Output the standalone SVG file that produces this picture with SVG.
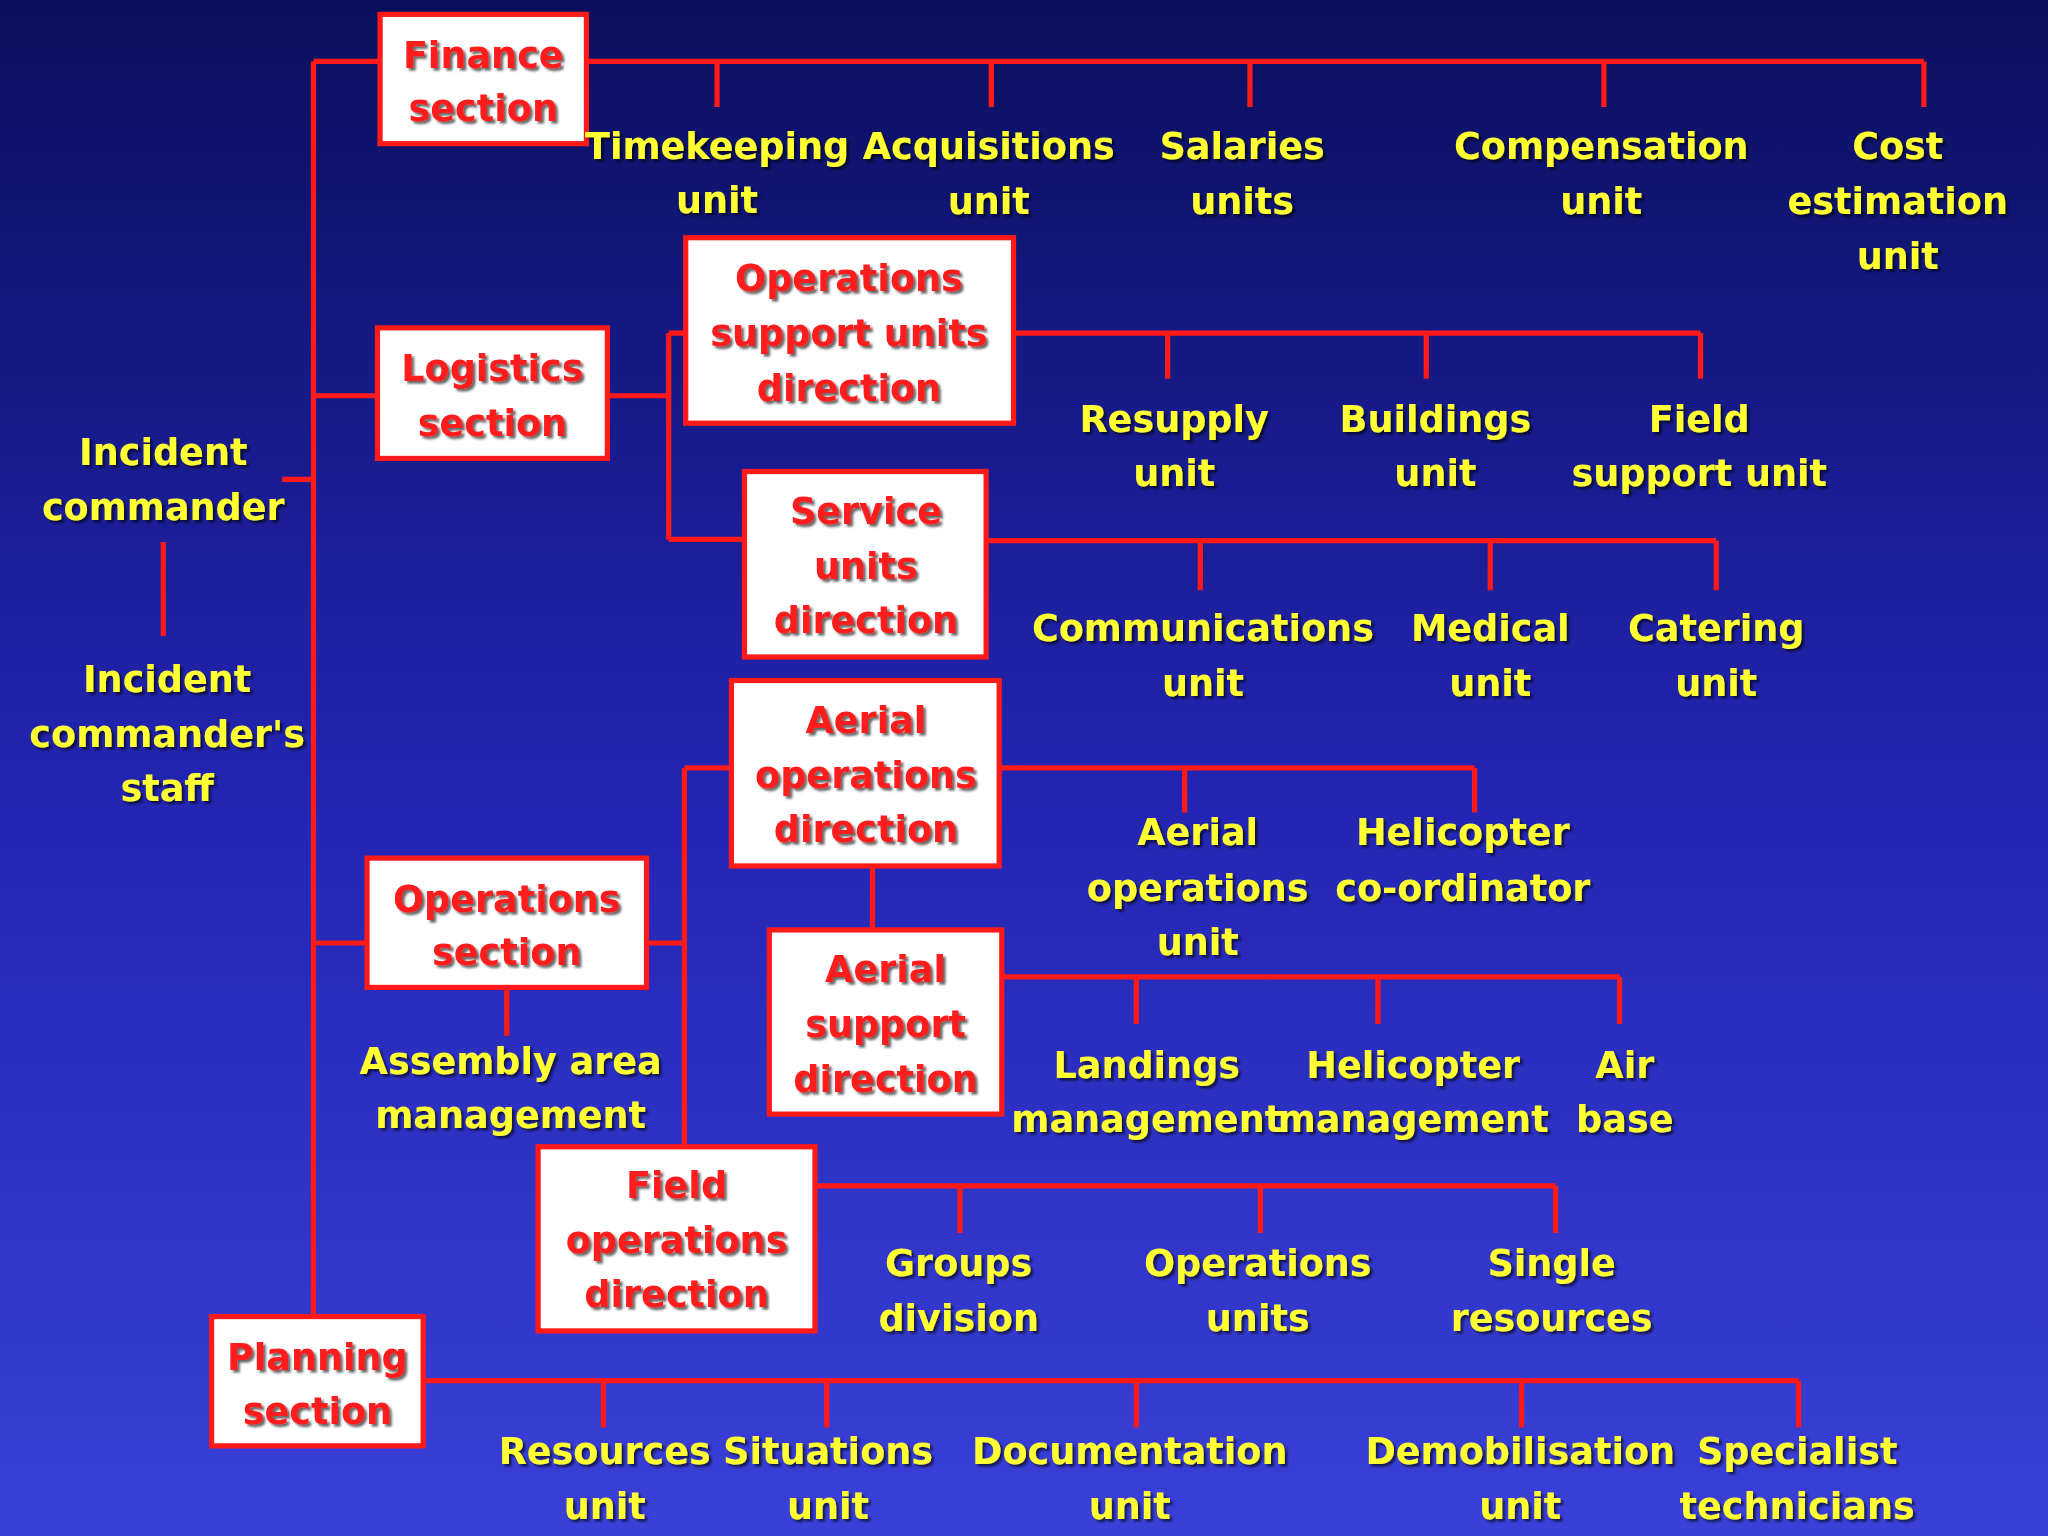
<svg xmlns="http://www.w3.org/2000/svg" width="2048" height="1536" viewBox="0 0 2048 1536">
<defs>
<linearGradient id="bg" x1="0" y1="0" x2="0" y2="1"><stop offset="0" stop-color="#0a0f5c"/><stop offset="0.5" stop-color="#2224b0"/><stop offset="1" stop-color="#3a40d8"/></linearGradient>
<filter id="sh"><feDropShadow dx="2" dy="2" stdDeviation="0.8" flood-color="#000" flood-opacity="0.6"/></filter>
</defs>
<style>
.b{fill:#fff;stroke:#ff1a1a;stroke-width:4}
.l{stroke:#ff1a1a;stroke-width:4;fill:none}
text{font-family:"DejaVu Sans",sans-serif;font-weight:bold;font-size:28px;text-anchor:middle}
.y{fill:#ffff33;filter:url(#sh)}
.r{fill:#ff1a1a;filter:url(#sh)}
</style>
<rect width="2048" height="1536" fill="url(#bg)"/>
<g transform="scale(1.3061)">
<g id="connectors">
<path class="l" d="M240 47V1008M240 47H291M449 47H1473M549 47V82M759 47V82M957 47V82M1228 47V82M1473 47V82"/>
<path class="l" d="M216 367H240M125 415V487"/>
<path class="l" d="M240 303H289M465 303H512M512 255V413M512 255H525M512 413H570"/>
<path class="l" d="M776 255H1302M894 255V290M1092 255V290M1302 255V290"/>
<path class="l" d="M755 414H1314M919 414V452M1141 414V452M1314 414V452"/>
<path class="l" d="M240 722H281M495 722H524M524 588V878M524 588H560M388 756V793"/>
<path class="l" d="M765 588H1129M907 588V622M1129 588V622M668 663V712"/>
<path class="l" d="M767 748H1240M870 748V784M1055 748V784M1240 748V784"/>
<path class="l" d="M624 908H1191M735 908V944M965 908V944M1191 908V944"/>
<path class="l" d="M324 1057H1377M462 1057V1093M633 1057V1093M870 1057V1093M1165 1057V1093M1377 1057V1093"/>
</g>
<g id="finance"><rect class="b" x="291" y="11" width="158" height="99"/><text class="r" x="370" y="52">Finance</text><text class="r" x="370" y="93">section</text></g>
<g id="logistics"><rect class="b" x="289" y="251" width="176" height="100"/><text class="r" x="377" y="292">Logistics</text><text class="r" x="377" y="334">section</text></g>
<g id="opsupport"><rect class="b" x="525" y="182" width="251" height="142"/><text class="r" x="650" y="223">Operations</text><text class="r" x="650" y="265">support units</text><text class="r" x="650" y="307">direction</text></g>
<g id="service"><rect class="b" x="570" y="361" width="185" height="142"/><text class="r" x="663" y="401">Service</text><text class="r" x="663" y="443">units</text><text class="r" x="663" y="485">direction</text></g>
<g id="aerialops"><rect class="b" x="560" y="521" width="205" height="142"/><text class="r" x="663" y="561">Aerial</text><text class="r" x="663" y="603">operations</text><text class="r" x="663" y="645">direction</text></g>
<g id="aerialsupport"><rect class="b" x="589" y="712" width="178" height="141"/><text class="r" x="678" y="752">Aerial</text><text class="r" x="678" y="794">support</text><text class="r" x="678" y="836">direction</text></g>
<g id="opsection"><rect class="b" x="281" y="657" width="214" height="99"/><text class="r" x="388" y="698">Operations</text><text class="r" x="388" y="739">section</text></g>
<g id="fieldops"><rect class="b" x="412" y="878" width="212" height="141"/><text class="r" x="518" y="917">Field</text><text class="r" x="518" y="959">operations</text><text class="r" x="518" y="1001">direction</text></g>
<g id="planning"><rect class="b" x="162" y="1008" width="162" height="99"/><text class="r" x="243" y="1049">Planning</text><text class="r" x="243" y="1090">section</text></g>
<g id="labels">
<text class="y" x="125" y="356">Incident</text><text class="y" x="125" y="398">commander</text>
<text class="y" x="128" y="530">Incident</text><text class="y" x="128" y="572">commander's</text><text class="y" x="128" y="613">staff</text>
<text class="y" x="549" y="122">Timekeeping</text><text class="y" x="549" y="163">unit</text>
<text class="y" x="757" y="122">Acquisitions</text><text class="y" x="757" y="164">unit</text>
<text class="y" x="951" y="122">Salaries</text><text class="y" x="951" y="164">units</text>
<text class="y" x="1226" y="122">Compensation</text><text class="y" x="1226" y="164">unit</text>
<text class="y" x="1453" y="122">Cost</text><text class="y" x="1453" y="164">estimation</text><text class="y" x="1453" y="206">unit</text>
<text class="y" x="899" y="331">Resupply</text><text class="y" x="899" y="372">unit</text>
<text class="y" x="1099" y="331">Buildings</text><text class="y" x="1099" y="372">unit</text>
<text class="y" x="1301" y="331">Field</text><text class="y" x="1301" y="372">support unit</text>
<text class="y" x="921" y="491">Communications</text><text class="y" x="921" y="533">unit</text>
<text class="y" x="1141" y="491">Medical</text><text class="y" x="1141" y="533">unit</text>
<text class="y" x="1314" y="491">Catering</text><text class="y" x="1314" y="533">unit</text>
<text class="y" x="917" y="647">Aerial</text><text class="y" x="917" y="690">operations</text><text class="y" x="917" y="731">unit</text>
<text class="y" x="1120" y="647">Helicopter</text><text class="y" x="1120" y="690">co-ordinator</text>
<text class="y" x="391" y="822">Assembly area</text><text class="y" x="391" y="864">management</text>
<text class="y" x="878" y="825">Landings</text><text class="y" x="878" y="867">management</text>
<text class="y" x="1082" y="825">Helicopter</text><text class="y" x="1082" y="867">management</text>
<text class="y" x="1244" y="825">Air</text><text class="y" x="1244" y="867">base</text>
<text class="y" x="734" y="977">Groups</text><text class="y" x="734" y="1019">division</text>
<text class="y" x="963" y="977">Operations</text><text class="y" x="963" y="1019">units</text>
<text class="y" x="1188" y="977">Single</text><text class="y" x="1188" y="1019">resources</text>
<text class="y" x="463" y="1121">Resources</text><text class="y" x="463" y="1163">unit</text>
<text class="y" x="634" y="1121">Situations</text><text class="y" x="634" y="1163">unit</text>
<text class="y" x="865" y="1121">Documentation</text><text class="y" x="865" y="1163">unit</text>
<text class="y" x="1164" y="1121">Demobilisation</text><text class="y" x="1164" y="1163">unit</text>
<text class="y" x="1376" y="1121">Specialist</text><text class="y" x="1376" y="1163">technicians</text>
</g>
</g>
</svg>
